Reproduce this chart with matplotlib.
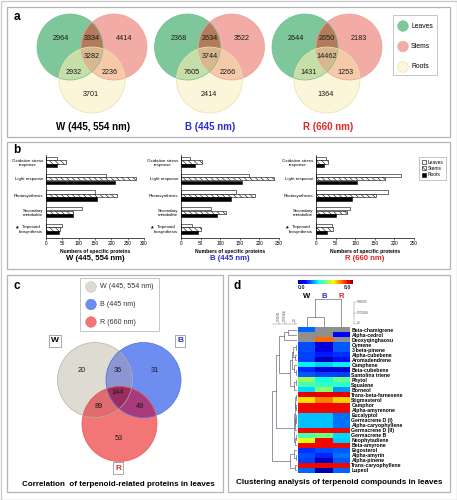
import numpy as np
import matplotlib
matplotlib.use("Agg")
import matplotlib.pyplot as plt
from matplotlib.patches import Circle, Rectangle, Patch, Polygon

plt.rcParams["font.family"] = ["Liberation Sans", "DejaVu Sans"]
plt.rcParams["hatch.linewidth"] = 0.4

FW, FH = 457, 500

# ---------------- data ----------------
lights = ["W (445, 554 nm)", "B (445 nm)", "R (660 nm)"]
light_short = ["W", "B", "R"]
light_colors = ["black", "#2b2bd6", "#e32626"]

tissues = ["Leaves", "Stems", "Roots"]
# panel a regions: L, L&S, S, L&S&R, L&R, S&R, R
venn_w = [2964, 3334, 4414, 3282, 2932, 2236, 3701]
venn_b = [2368, 2634, 3522, 3744, 7605, 2266, 2414]
venn_r = [2644, 2650, 2183, 14462, 1431, 1253, 1364]

# panel b
functions = ["Oxidative stress\nresponse", "Light response", "Photosynthesis",
             "Secondary\nmetabolite", "Terpenoid\nbiosynthesis"]
w_leaves = [33, 184, 150, 110, 48]
w_stems = [60, 275, 218, 82, 43]
w_roots = [33, 211, 157, 84, 41]
b_leaves = [24, 174, 141, 77, 29]
b_stems = [54, 237, 189, 114, 50]
b_roots = [35, 156, 128, 92, 44]
r_leaves = [25, 216, 184, 86, 40]
r_stems = [30, 175, 154, 80, 44]
r_roots = [21, 105, 92, 50, 28]

# panel c regions: W, W&B, B, W&B&R, W&R, B&R, R
venn_leaf = [20, 36, 31, 144, 89, 49, 53]

# panel d
compounds = ["Beta-chamigrene", "Alpha-cedrol", "Deoxyqinghaosu", "Cymene",
             "3-beta-pinene", "Alpha-cubebene", "Aromadendrene", "Camphene",
             "Beta-cubebene", "Santolina triene", "Phytol", "Squalene", "Borneol",
             "Trans-beta-farnesene", "Stigmasterol", "Camphor", "Alpha-amyrenone",
             "Eucalyptol", "Germacrene D (I)", "Alpha-caryophyllene",
             "Germacrene D (II)", "Germacrene B", "Neophytadiene", "Beta-amyrone",
             "Ergosterol", "Alpha-amyrin", "Alpha-pinene", "Trans-caryophyllene",
             "Lupeol"]
nan = np.nan
heat_w = [1.8, nan, nan, 1.6, 1.6, 1.5, 1.5, 2.9, 1.3, 1.7, 4.3, 3.5, 2.7, 7.3,
          5.4, 7.2, 7.2, 2.5, 2.5, 2.5, 7.2, 3.5, 5.0, 7.2, 1.4, 1.6, 1.5, 7.2, 1.8]
heat_b = [nan, nan, 6.4, 0.6, 0.7, 1.2, 0.4, 2.6, 0.6, 1.5, 3.0, 3.3, 4.1, 7.3,
          6.2, 7.2, 7.2, 2.5, 2.5, 2.5, 7.2, 3.9, 7.2, 7.2, 1.6, 1.3, 0.4, 7.2, 0.3]
heat_r = [nan, 1.0, nan, 1.7, 1.7, 1.4, 1.1, 2.9, 0.6, 1.5, 3.9, 3.2, 2.2, 7.3,
          5.5, 7.2, 7.2, 1.9, 1.9, 1.9, 7.2, 2.7, 2.6, 7.2, 1.7, 1.9, 1.7, 7.2, 1.8]

# dendrograms (left, right, height)
tree_top3 = ((0, 1, 0.35), 2, 0.55)
tree_mid = ((((3, 4, 0.06), (5, 6, 0.08), 0.15), (7, (8, 9, 0.05), 0.12), 0.22),
            ((10, 11, 0.06), 12, 0.14), 0.30)
sub_a = ((13, 14, 0.04), (15, 16, 0.03), 0.08)
sub_b = ((17, (18, 19, 0.02), 0.04), 20, 0.07)
sub_c = ((21, 22, 0.06), 23, 0.09)
tree_red = ((sub_a, sub_b, 0.10), sub_c, 0.14)
tree_low = ((24, (25, 26, 0.06), 0.12), (27, 28, 0.10), 0.30)
row_tree = (((tree_top3, tree_mid, 0.75), tree_red, 0.85), tree_low, 1.0)
col_tree = ((0, 1, 0.36), 2, 1.0)


# ---------------- figure ----------------
fig = plt.figure(figsize=(FW / 100, FH / 100), dpi=100)
cv = fig.add_axes([0, 0, 1, 1])
cv.set_xlim(0, FW)
cv.set_ylim(FH, 0)
cv.axis("off")


def px_axes(x0, y0, x1, y1):
    a = fig.add_axes([x0 / FW, 1 - y1 / FH, (x1 - x0) / FW, (y1 - y0) / FH])
    a.set_facecolor("none")
    return a


cv.add_patch(Rectangle((0.5, 0.5), FW - 1, FH - 1, fill=False, ec="#cccccc", lw=1))
for (x0, y0, x1, y1) in [(7, 7, 450, 137), (7, 142, 450, 269),
                         (7, 275, 223, 492), (228, 275, 450, 492)]:
    cv.add_patch(Rectangle((x0, y0), x1 - x0, y1 - y0, fill=False, ec="#b4b4b4", lw=0.9))

for lab, (x, y) in zip("abcd", [(17, 17), (17, 150), (17, 286), (237, 286)]):
    cv.text(x, y, lab, fontsize=8.5, fontweight="bold", ha="center", va="center")


# --- venn helpers: circles as polygons, overlaps by convex clipping ---
def circle_poly(cx, cy, r, n=120):
    t = np.linspace(0, 2 * np.pi, n, endpoint=False)
    return np.column_stack([cx + r * np.cos(t), cy + r * np.sin(t)])


def _cross(p, q, x, y):
    # intersection of segment p-q with line x-y
    d = (p[0] - q[0]) * (x[1] - y[1]) - (p[1] - q[1]) * (x[0] - y[0])
    t = ((p[0] - x[0]) * (x[1] - y[1]) - (p[1] - x[1]) * (x[0] - y[0])) / d
    return (p[0] + t * (q[0] - p[0]), p[1] + t * (q[1] - p[1]))


def clip(subject, clipper):
    out = [tuple(p) for p in subject]
    for i in range(len(clipper)):
        a, b = clipper[i], clipper[(i + 1) % len(clipper)]
        inside = lambda p: (b[0] - a[0]) * (p[1] - a[1]) - (b[1] - a[1]) * (p[0] - a[0]) >= 0
        inp, out = out, []
        if not inp:
            break
        s = inp[-1]
        for e in inp:
            if inside(e):
                if not inside(s):
                    out.append(_cross(s, e, a, b))
                out.append(e)
            elif inside(s):
                out.append(_cross(s, e, a, b))
            s = e
    return np.array(out)


def venn3(counts, circles, r, colors, edges, label_pos, fs):
    # colors: A, B, C, AB, AC, BC, ABC
    polys = [circle_poly(cx, cy, r) for cx, cy in circles]
    for p, c in zip(polys, colors[:3]):
        cv.add_patch(Polygon(p, fc=c, ec="none"))
    for (i, j), c in zip([(0, 1), (0, 2), (1, 2)], colors[3:6]):
        cv.add_patch(Polygon(clip(polys[i], polys[j]), fc=c, ec="none"))
    cv.add_patch(Polygon(clip(clip(polys[0], polys[1]), polys[2]), fc=colors[6], ec="none"))
    for (cx, cy), ec in zip(circles, edges):
        cv.add_patch(Circle((cx, cy), r, fill=False, ec=ec, lw=0.5))
    for n, (x, y) in zip(counts, label_pos):
        cv.text(x, y, str(n), fontsize=fs, ha="center", va="center", color="#1a1a1a")


# ---- panel a ----
a_cols = ["#7dc79b", "#f3aba5", "#fbf5da", "#b27b5c", "#c6dea8", "#f6c9a8", "#d8b88f"]
a_edge = ["#6fbf90", "#eea19a", "#ecdfa6"]
circ_off = [(-22, 0), (22, 0), (0, 33)]
lab_off = [(-31, -8), (0, -8), (32, -8), (0, 9), (-18, 25), (18, 25), (-1, 48)]
for k, counts in enumerate([venn_w, venn_b, venn_r]):
    ox, oy = 92 + 117.5 * k, 47
    venn3(counts, [(ox + dx, oy + dy) for dx, dy in circ_off], 33, a_cols, a_edge,
          [(ox + dx, oy + dy) for dx, dy in lab_off], 5.2)
    cv.text(ox + 1, 127, lights[k], fontsize=7, fontweight="bold",
            color=light_colors[k], ha="center", va="center")

cv.add_patch(Rectangle((393, 15), 44, 60, fc="white", ec="#bbbbbb", lw=0.6))
for i, t in enumerate(tissues):
    cy = 26 + 20.5 * i
    cv.add_patch(Circle((403, cy), 5.3, fc=a_cols[i], ec=a_edge[i], lw=0.4))
    cv.text(411, cy, t, fontsize=4.9, ha="left", va="center")

# ---- panel b ----
bar_sets = [(w_leaves, w_stems, w_roots, 300), (b_leaves, b_stems, b_roots, 250),
            (r_leaves, r_stems, r_roots, 250)]
b_left = [46, 181, 316]
y = np.arange(len(functions))
for k, (lv, st, rt, xmax) in enumerate(bar_sets):
    x0 = b_left[k]
    ax = px_axes(x0, 155, x0 + 98, 238)
    ax.barh(y - 0.21, lv, height=0.2, color="white", edgecolor="black", lw=0.4)
    ax.barh(y, st, height=0.2, color="white", edgecolor="black", hatch="\\\\\\\\\\\\", lw=0.4)
    ax.barh(y + 0.21, rt, height=0.2, color="black", edgecolor="black", lw=0.4)
    ax.set_ylim(4.54, -0.42)
    ax.set_xlim(0, xmax)
    ax.set_xticks(np.arange(0, xmax + 1, 50))
    ax.set_yticks(y)
    ax.set_yticklabels(functions, fontsize=3.2, multialignment="center")
    ax.tick_params(axis="x", labelsize=3.4, length=1.5, width=0.4, pad=1)
    ax.tick_params(axis="y", length=0, pad=2)
    for s in ["top", "right"]:
        ax.spines[s].set_visible(False)
    for s in ["left", "bottom"]:
        ax.spines[s].set_linewidth(0.5)
    ax.set_xlabel("Numbers of specific proteins", fontsize=3.6, fontweight="bold", labelpad=1.5)
    cv.text(x0 - 29, 229, "*", fontsize=5, fontweight="bold", ha="center", va="center")
    cv.text(x0 + 49, 259, lights[k], fontsize=5.6, fontweight="bold",
            color=light_colors[k], ha="center", va="center")

handles = [Patch(fc="white", ec="black", lw=0.4),
           Patch(fc="white", ec="black", hatch="\\\\\\\\\\\\", lw=0.4),
           Patch(fc="black", ec="black", lw=0.4)]
leg = fig.legend(handles, tissues, loc="upper left", bbox_to_anchor=(417 / FW, 1 - 155 / FH),
                 fontsize=3.5, handlelength=0.9, handleheight=0.9, borderpad=0.5,
                 labelspacing=0.25, handletextpad=0.3, fancybox=False)
leg.get_frame().set_edgecolor("#999999")
leg.get_frame().set_linewidth(0.5)

# ---- panel c ----
c_cols = ["#dddbd2", "#6d8df0", "#f27676", "#8b96d2", "#e06c6e", "#a63a7c", "#9c2d60"]
c_edge = ["#b4b2a6", "#4f6ee0", "#e65656"]
c_circ = [(95, 380), (143.5, 380), (119.5, 424)]
c_lab = [(82, 370), (118, 370), (155, 370), (118, 393), (99, 406), (140, 406), (119, 438)]
venn3(venn_leaf, c_circ, 37.5, c_cols, c_edge, c_lab, 5.3)

cv.add_patch(Rectangle((80, 278), 79, 53, fc="white", ec="#bbbbbb", lw=0.6))
for i, t in enumerate(lights):
    cy = 287 + 17.5 * i
    cv.add_patch(Circle((91, cy), 5.3, fc=c_cols[i], ec=c_edge[i], lw=0.3))
    cv.text(100, cy, t, fontsize=5.1, ha="left", va="center", color="#333333")

for t, col, (x, yy) in zip(light_short, light_colors, [(55, 341), (180, 341), (118, 468)]):
    cv.text(x, yy, t, fontsize=6, fontweight="bold", color=col, ha="center", va="center",
            bbox=dict(boxstyle="square,pad=0.25", fc="white", ec="#999999", lw=0.6))
cv.text(118, 484, "Correlation  of terpenoid-related proteins in leaves", fontsize=5.8,
        fontweight="bold", ha="center", va="center")

# ---- panel d ----
hx0, hy0, hx1, hy1 = 298, 327, 350, 473
heat = np.array([heat_w, heat_b, heat_r]).T
cmap = plt.get_cmap("jet").copy()
cmap.set_bad("#8f8f8f")
axh = px_axes(hx0, hy0, hx1, hy1)
axh.imshow(np.ma.masked_invalid(heat), cmap=cmap, vmin=0, vmax=8, aspect="auto",
           interpolation="nearest")
axh.set_xticks([])
axh.yaxis.tick_right()
axh.set_yticks(np.arange(len(compounds)))
axh.set_yticklabels(compounds, fontsize=3.7, fontweight="bold")
axh.tick_params(axis="y", length=0, pad=1)
for s in axh.spines.values():
    s.set_visible(False)

cax = px_axes(298, 280, 353, 284)
cax.imshow(np.linspace(0, 8, 256)[None, :], cmap="jet", aspect="auto", vmin=0, vmax=8)
cax.axis("off")
cv.text(302, 287.5, "0.0", fontsize=3.8, fontweight="bold", ha="center", va="center", color="#222266")
cv.text(348, 287.5, "8.0", fontsize=3.8, fontweight="bold", ha="center", va="center", color="#222266")

colw = (hx1 - hx0) / 3
for i, t in enumerate(light_short):
    cv.text(hx0 + (i + 0.5) * colw, 296, t, fontsize=5.5, fontweight="bold",
            color=light_colors[i], ha="center", va="center")


def draw_dendro(ax, node, rows):
    if isinstance(node, int):
        return float(node), 0.0
    l, r, h = node
    pl, hl = draw_dendro(ax, l, rows)
    pr, hr = draw_dendro(ax, r, rows)
    if rows:
        ax.plot([hl, h, h, hr], [pl, pl, pr, pr], color="#5a5a70", lw=0.45)
    else:
        ax.plot([pl, pl, pr, pr], [hl, h, h, hr], color="#5a5a70", lw=0.45)
    return (pl + pr) / 2, h


axl = px_axes(272, hy0, hx0 - 1, hy1)
draw_dendro(axl, row_tree, True)
axl.set_xlim(1.02, 0)
axl.set_ylim(len(compounds) - 0.5, -0.5)
axl.axis("off")

axt = px_axes(hx0, 298, hx1, hy0)
draw_dendro(axt, col_tree, False)
axt.set_xlim(-0.5, 2.5)
axt.set_ylim(0, 1.02)
axt.axis("off")

# small distance scales
cv.plot([354, 354], [302, 324], color="#777777", lw=0.3)
for yy, t in zip([302, 313, 323.5], ["0.966539", "0.9729168", "1.0"]):
    cv.plot([354, 355.5], [yy, yy], color="#777777", lw=0.3)
    cv.text(356.5, yy, t, fontsize=1.8, ha="left", va="center", color="#444444")
cv.plot([273, 297], [323.5, 323.5], color="#777777", lw=0.3)
for xx, t in zip([279, 285, 295], ["0.974911", "0.9753946", "1.0"]):
    cv.plot([xx, xx], [322, 323.5], color="#777777", lw=0.3)
    cv.text(xx, 321, t, fontsize=1.8, rotation=90, ha="center", va="bottom", color="#444444")

cv.text(339, 483, "Clustering analysis of terpenoid compounds in leaves", fontsize=5.8,
        fontweight="bold", ha="center", va="center")

fig.savefig("out.png", dpi=100)
